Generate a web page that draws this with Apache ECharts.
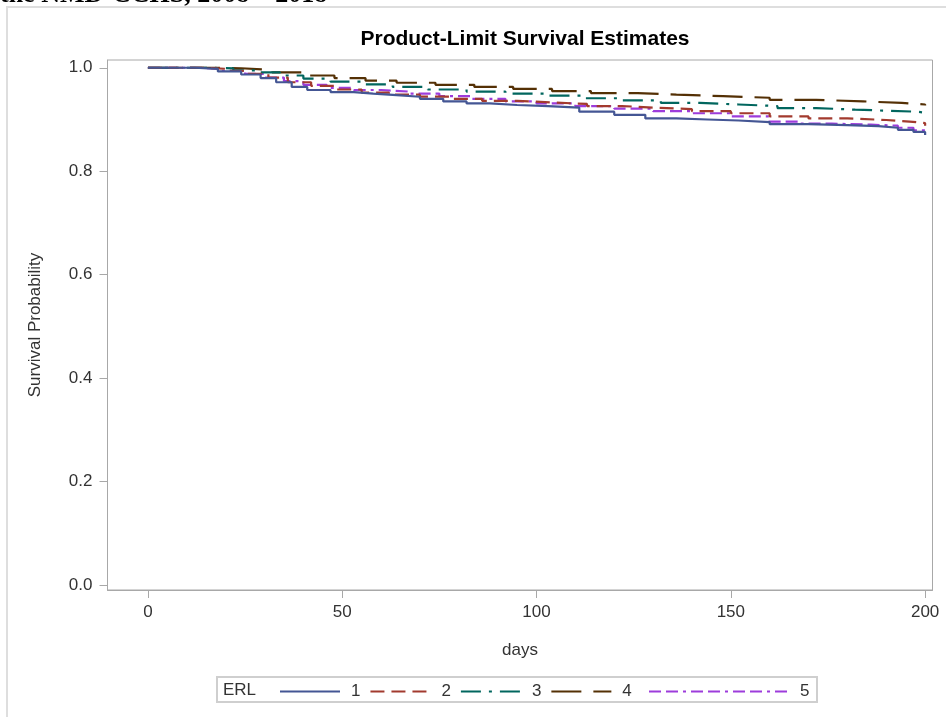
<!DOCTYPE html>
<html>
<head>
<meta charset="utf-8">
<script src="https://cdn.jsdelivr.net/npm/echarts@6/dist/echarts.min.js"></script>
<style>
  html, body { margin: 0; padding: 0; background: #fff; }
  #chart { width: 946px; height: 717px; }
</style>
</head>
<body>
<div id="chart"></div>
<script>
// Kaplan-Meier step curves by ERL group (days, survival probability)
const days1 = [0, 12, 18, 24, 29, 33, 37, 41, 47, 53, 58, 64, 70, 76, 82, 88, 95, 103, 111, 120, 128, 136, 144, 152, 160, 170, 180, 188, 193, 197, 200];
const surv1 = [1.0, 0.998, 0.993, 0.987, 0.980, 0.972, 0.963, 0.957, 0.953, 0.950, 0.947, 0.944, 0.940, 0.935, 0.931, 0.928, 0.926, 0.923, 0.915, 0.909, 0.902, 0.900, 0.898, 0.895, 0.891, 0.889, 0.887, 0.884, 0.880, 0.876, 0.870];

const days2 = [0, 14, 20, 26, 31, 36, 42, 48, 55, 62, 70, 78, 86, 95, 104, 113, 122, 130, 140, 150, 160, 170, 180, 190, 196, 200];
const surv2 = [1.0, 0.998, 0.994, 0.988, 0.981, 0.972, 0.965, 0.958, 0.952, 0.948, 0.944, 0.940, 0.936, 0.933, 0.930, 0.926, 0.923, 0.920, 0.916, 0.912, 0.906, 0.902, 0.899, 0.896, 0.893, 0.888];

const days3 = [0, 15, 22, 28, 34, 40, 47, 55, 63, 72, 82, 92, 102, 112, 122, 132, 142, 152, 162, 172, 182, 190, 198, 200];
const surv3 = [1.0, 0.999, 0.995, 0.991, 0.985, 0.979, 0.973, 0.968, 0.963, 0.958, 0.954, 0.950, 0.946, 0.941, 0.937, 0.932, 0.929, 0.926, 0.922, 0.919, 0.917, 0.915, 0.913, 0.911];

const days4 = [0, 16, 24, 32, 40, 48, 56, 64, 74, 84, 94, 104, 114, 126, 136, 148, 160, 172, 184, 194, 200];
const surv4 = [1.0, 0.999, 0.996, 0.991, 0.985, 0.980, 0.975, 0.971, 0.967, 0.963, 0.959, 0.955, 0.951, 0.948, 0.945, 0.942, 0.938, 0.935, 0.932, 0.929, 0.927];

const days5 = [0, 13, 19, 25, 30, 35, 40, 46, 53, 60, 67, 75, 83, 92, 100, 110, 120, 130, 140, 150, 160, 168, 176, 186, 193, 197, 200];
const surv5 = [1.0, 0.998, 0.994, 0.988, 0.981, 0.974, 0.967, 0.961, 0.957, 0.954, 0.950, 0.945, 0.940, 0.935, 0.931, 0.926, 0.921, 0.916, 0.912, 0.906, 0.896, 0.892, 0.890, 0.888, 0.884, 0.879, 0.875];

const groupNames = ['1', '2', '3', '4', '5'];
const groupColors = ['#445694', '#A23A2E', '#01665E', '#543005', '#9D3CDB'];
const groupDashes = ['solid', [14, 7], [20, 8, 3, 8], [30, 12], [12, 5, 12, 5, 3, 5]];

const xTicks = [0, 50, 100, 150, 200];
const yTicks = [0.0, 0.2, 0.4, 0.6, 0.8, 1.0];

const allDays = [days1, days2, days3, days4, days5];
const allSurv = [surv1, surv2, surv3, surv4, surv5];

const FONT = '"Liberation Sans", Arial, sans-serif';
const AXIS_GRAY = '#a8a8a8';
const TEXT_COLOR = '#333';

const series = groupNames.map((name, i) => ({
  name: name,
  type: 'line',
  step: 'end',
  symbol: 'none',
  showSymbol: false,
  animation: false,
  data: allDays[i].map((d, k) => [d, allSurv[i][k]]),
  lineStyle: { color: groupColors[i], width: 2.2, type: groupDashes[i] },
  itemStyle: { color: groupColors[i] },
  z: 10 - i
}));

const legendCommon = {
  top: 683,
  padding: 0,
  itemHeight: 14,
  selectedMode: false,
  itemStyle: { opacity: 0 },
  textStyle: { fontFamily: FONT, fontSize: 17, color: TEXT_COLOR, padding: [0, 0, 0, 6] }
};

const chart = echarts.init(document.getElementById('chart'), null, { renderer: 'canvas' });

chart.setOption({
  animation: false,
  backgroundColor: '#fff',
  title: {
    text: 'Product-Limit Survival Estimates',
    left: 520,
    textAlign: 'center',
    top: 24,
    textStyle: { fontFamily: FONT, fontWeight: 'bold', fontSize: 21, color: '#000' }
  },
  grid: {
    left: 107.5,
    right: 13.5,
    top: 60,
    bottom: 127,
    show: true,
    borderColor: AXIS_GRAY,
    borderWidth: 1
  },
  xAxis: {
    type: 'value',
    min: -10.4,
    max: 201.9,
    name: 'days',
    nameLocation: 'middle',
    nameGap: 52,
    nameTextStyle: { fontFamily: FONT, fontSize: 17, color: TEXT_COLOR },
    axisLine: { show: true, onZero: false, lineStyle: { color: AXIS_GRAY } },
    axisTick: { show: true, length: 8, customValues: xTicks, lineStyle: { color: AXIS_GRAY } },
    axisLabel: {
      customValues: xTicks,
      margin: 14,
      fontFamily: FONT, fontSize: 17, color: TEXT_COLOR,
      formatter: v => String(Math.round(v))
    },
    splitLine: { show: false }
  },
  yAxis: {
    type: 'value',
    min: -0.0097,
    max: 1.015,
    name: 'Survival Probability',
    nameLocation: 'middle',
    nameGap: 64,
    nameRotate: 90,
    nameTextStyle: { fontFamily: FONT, fontSize: 17, color: TEXT_COLOR },
    axisLine: { show: true, onZero: false, lineStyle: { color: AXIS_GRAY } },
    axisTick: { show: true, length: 8, customValues: yTicks, lineStyle: { color: AXIS_GRAY } },
    axisLabel: {
      customValues: yTicks,
      margin: 15,
      fontFamily: FONT, fontSize: 17, color: TEXT_COLOR,
      formatter: v => v.toFixed(1)
    },
    splitLine: { show: false }
  },
  legend: [
    Object.assign({}, legendCommon, {
      data: groupNames.slice(0, 4),
      left: 279,
      itemWidth: 60,
      itemGap: 9
    }),
    Object.assign({}, legendCommon, {
      data: groupNames.slice(4),
      left: 648,
      itemWidth: 140
    })
  ],
  graphic: [
    {
      type: 'rect',
      x: 7, y: 7,
      shape: { width: 960, height: 730 },
      style: { fill: 'none', stroke: '#dedede', lineWidth: 2 },
      silent: true
    },
    {
      type: 'text',
      x: 0, y: 8,
      style: {
        text: 'the NMD-CCHS, 2008 \u2013 2018',
        font: 'bold 26px "Liberation Serif", "Times New Roman", serif',
        fill: '#000',
        verticalAlign: 'bottom'
      },
      silent: true
    },
    {
      type: 'rect',
      x: 217, y: 677,
      shape: { width: 600, height: 25 },
      style: { fill: 'none', stroke: '#cfcfcf', lineWidth: 2 },
      silent: true
    },
    {
      type: 'text',
      x: 223, y: 690,
      style: {
        text: 'ERL',
        font: '17px "Liberation Sans", Arial, sans-serif',
        fill: TEXT_COLOR,
        verticalAlign: 'middle'
      },
      silent: true
    }
  ],
  series: series
});
</script>
</body>
</html>
